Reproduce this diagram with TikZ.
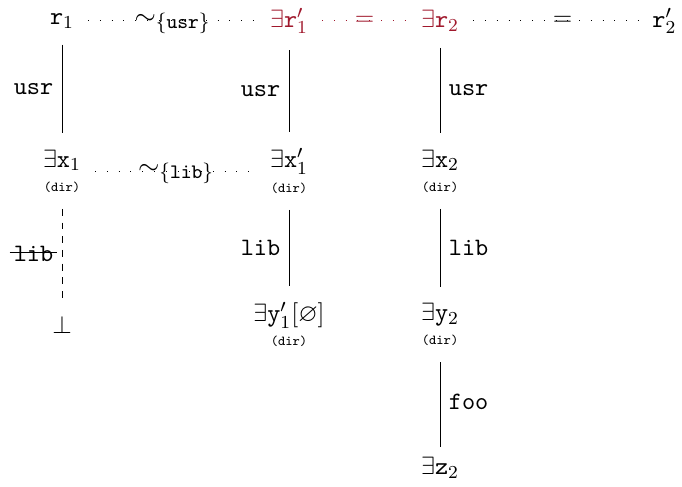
\documentclass[11pt,tikz,border=0pt]{standalone}
\usepackage{amsmath,amssymb}
\usepackage{xcolor}
\usepackage{tikz}
\usetikzlibrary{positioning,calc}

\definecolor{ownred}{RGB}{160,24,44}
\newcommand{\dirtag}{\\[-3pt]{\tiny\texttt{(dir)}}}
\newcommand{\simsub}[1]{{\large$\sim$}\raisebox{-1.75pt}{\footnotesize$\{\mathtt{#1}\}$}}

\begin{document}
\begin{tikzpicture}[x=1cm,y=1cm,
  obj/.style={inner sep=3pt,align=center},
  own/.style={text=ownred},
  lnk/.style={shorten <=4pt,shorten >=4pt},
  eqv/.style={dash pattern=on 0.4pt off 4.75pt,shorten <=3pt,shorten >=3pt},
  eqlbl/.style={inner sep=1pt},
  lbl/.style={font=\ttfamily}]
\useasboundingbox (0,0) rectangle (10.49,-7.49);

% top row: roots
\node[obj] (r1)  at (0.954,-0.32) {$\mathtt{r}_1$};
\node[obj,own] (r1p) at (4.446,-0.32) {$\exists\mathtt{r}'_1$};
\node[obj,own] (r2)  at (6.769,-0.32) {$\exists\mathtt{r}_2$};
\node[obj] (r2p) at (10.22,-0.32) {$\mathtt{r}'_2$};

% second row
\node[obj] (x1)  at (0.954,-2.63) {$\exists\mathtt{x}_1$\dirtag};
\node[obj] (x1p) at (4.446,-2.63) {$\exists\mathtt{x}'_1$\dirtag};
\node[obj] (x2)  at (6.769,-2.63) {$\exists\mathtt{x}_2$\dirtag};

% third row
\node[obj] (bot) at (0.954,-4.99) {$\bot$};
\node[obj] (y1p) at (4.446,-4.99) {$\exists\mathtt{y}'_1[\varnothing]$\dirtag};
\node[obj] (y2)  at (6.769,-4.99) {$\exists\mathtt{y}_2$\dirtag};

% last row
\node[obj] (z2)  at (6.769,-7.19) {$\exists\mathtt{z}_2$};

% edges
\draw[lnk] (r1) -- node[left,lbl] {usr} (x1);
\draw[lnk] (r1p) -- node[left,lbl] {usr} (x1p);
\draw[lnk] (r2) -- node[right,lbl] {usr} (x2);
\draw[lnk,dashed] (x1) -- node[left,lbl] (nolib) {lib} (bot);
\draw ([xshift=2pt,yshift=0.5pt]nolib.west) -- ([xshift=-2pt,yshift=0.5pt]nolib.east);
\draw[lnk] (x1p) -- node[left,lbl] {lib} (y1p);
\draw[lnk] (x2) -- node[right,lbl] {lib} (y2);
\draw[lnk,shorten >=1pt] (y2) -- node[right,lbl] {foo} (z2);

% equivalences
\draw[eqv] (r1) -- node[eqlbl,yshift=-1pt] {\simsub{usr}} (r1p);
\draw[eqv,ownred] (r1p) -- node[eqlbl] {$=$} (r2);
\draw[eqv] (r2) -- node[eqlbl,xshift=3pt] {$=$} (r2p);
\draw[eqv] (x1) -- node[eqlbl,yshift=-1pt] {\simsub{lib}} (x1p);
\end{tikzpicture}
\end{document}
